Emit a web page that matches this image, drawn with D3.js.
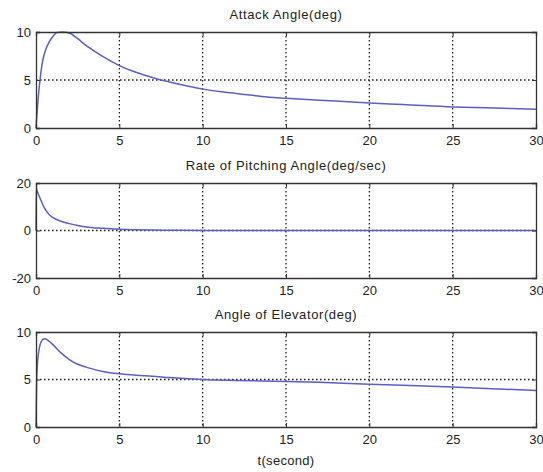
<!DOCTYPE html>
<html>
<head>
<meta charset="utf-8">
<script src="https://cdn.jsdelivr.net/npm/d3@7/dist/d3.min.js"></script>
<style>
  html, body { margin: 0; padding: 0; background: #fff; }
  svg { display: block; }
  text { font-family: "Liberation Sans", Arial, sans-serif; fill: #222; }
</style>
</head>
<body>
<svg id="chart" width="543" height="472"></svg>
<script>
// ---- data ----
const xTicks = [0, 5, 10, 15, 20, 25, 30];

const attackTitle = "Attack Angle(deg)";
const attackT = [0, 0.1, 0.24, 0.4, 0.55, 0.8, 1.0, 1.25, 1.6, 2.0, 2.5, 3, 3.5, 4, 5, 6, 7, 7.5, 8, 9, 10, 11, 12, 13, 14, 15, 17, 20, 22, 25, 27, 30];
const attackV = [0, 2.5, 5, 7, 8, 9, 9.5, 9.95, 10, 9.9, 9.3, 8.6, 8.0, 7.45, 6.5, 5.8, 5.25, 5.0, 4.8, 4.4, 4.05, 3.8, 3.6, 3.4, 3.2, 3.1, 2.9, 2.6, 2.45, 2.2, 2.1, 1.95];
const attackYTicks = [0, 5, 10];

const pitchTitle = "Rate of Pitching Angle(deg/sec)";
const pitchT = [0, 0.01, 0.1, 0.25, 0.5, 0.75, 1, 1.5, 2, 2.5, 3, 4, 5, 6, 8, 10, 30];
const pitchV = [0, 17.8, 16, 13.5, 9.5, 7, 5.5, 3.9, 2.9, 2.1, 1.5, 0.9, 0.5, 0.3, 0.1, 0, 0];
const pitchYTicks = [-20, 0, 20];

const elevTitle = "Angle of Elevator(deg)";
const elevT = [0, 0.03, 0.08, 0.15, 0.25, 0.4, 0.55, 0.8, 1.0, 1.5, 2, 2.5, 3, 4, 5, 6, 7, 8, 10, 12, 15, 17, 20, 22, 25, 27, 30];
const elevV = [0, 4, 6.5, 7.8, 8.7, 9.2, 9.3, 9.0, 8.7, 7.8, 7.1, 6.6, 6.3, 5.85, 5.6, 5.45, 5.35, 5.2, 5.0, 4.9, 4.8, 4.7, 4.5, 4.4, 4.2, 4.05, 3.85];
const elevYTicks = [0, 5, 10];

const xLabel = "t(second)";

// ---- layout ----
const svg = d3.select("#chart");
const left = 36, right = 536;
const panels = [
  { title: attackTitle, t: attackT, v: attackV, yTicks: attackYTicks, top: 32, bottom: 128 },
  { title: pitchTitle, t: pitchT, v: pitchV, yTicks: pitchYTicks, top: 183, bottom: 278 },
  { title: elevTitle, t: elevT, v: elevV, yTicks: elevYTicks, top: 332, bottom: 427 }
];

const x = d3.scaleLinear().domain([0, 30]).range([left, right]);
const lineColor = "#5a5fc6";
const fmt = d => String(d);

panels.forEach((p, i) => {
  const y = d3.scaleLinear().domain(d3.extent(p.yTicks)).range([p.bottom, p.top]);
  const g = svg.append("g");

  // grid
  g.append("g").selectAll("line.gx").data(xTicks.slice(1, -1)).join("line")
    .attr("x1", d => x(d)).attr("x2", d => x(d))
    .attr("y1", p.top).attr("y2", p.bottom)
    .attr("stroke", "#222").attr("stroke-width", 1.3)
    .attr("stroke-dasharray", "1.6,2.4");
  g.append("g").selectAll("line.gy").data(p.yTicks.slice(1, -1)).join("line")
    .attr("x1", left).attr("x2", right)
    .attr("y1", d => y(d)).attr("y2", d => y(d))
    .attr("stroke", "#222").attr("stroke-width", 1.3)
    .attr("stroke-dasharray", "1.6,2.4");

  // curve
  const data = p.t.map((t, k) => [t, p.v[k]]);
  g.append("path").datum(data)
    .attr("fill", "none").attr("stroke", lineColor).attr("stroke-width", 1.5)
    .attr("d", d3.line().x(d => x(d[0])).y(d => y(d[1])).curve(d3.curveMonotoneX));

  // axes (ticks inside)
  const ax = d3.axisBottom(x).tickValues(xTicks).tickSize(-4).tickPadding(8).tickFormat(fmt);
  const axTop = d3.axisTop(x).tickValues(xTicks).tickSize(-4).tickFormat("");
  const ay = d3.axisLeft(y).tickValues(p.yTicks).tickSize(-4).tickPadding(5).tickFormat(fmt);
  const ayR = d3.axisRight(y).tickValues(p.yTicks).tickSize(-4).tickFormat("");

  [[ax, `translate(0,${p.bottom})`], [axTop, `translate(0,${p.top})`],
   [ay, `translate(${left},0)`], [ayR, `translate(${right},0)`]].forEach(([a, tr]) => {
    const gg = g.append("g").attr("transform", tr).call(a);
    gg.select(".domain").attr("stroke", "#333").attr("stroke-width", 1.3);
    gg.selectAll(".tick line").attr("stroke", "#333");
    gg.selectAll("text").attr("font-size", 13).attr("font-family", '"Liberation Sans", Arial, sans-serif').attr("fill", "#333");
  });

  // title
  g.append("text").attr("x", (left + right) / 2).attr("y", p.top - 13)
    .attr("text-anchor", "middle").attr("font-size", 13).attr("letter-spacing", 0.6)
    .attr("fill", "#333")
    .text(p.title);
});

svg.append("text").attr("x", (left + right) / 2).attr("y", 465)
  .attr("text-anchor", "middle").attr("font-size", 13).attr("letter-spacing", 0.3)
  .attr("fill", "#333")
  .text(xLabel);
</script>
</body>
</html>
